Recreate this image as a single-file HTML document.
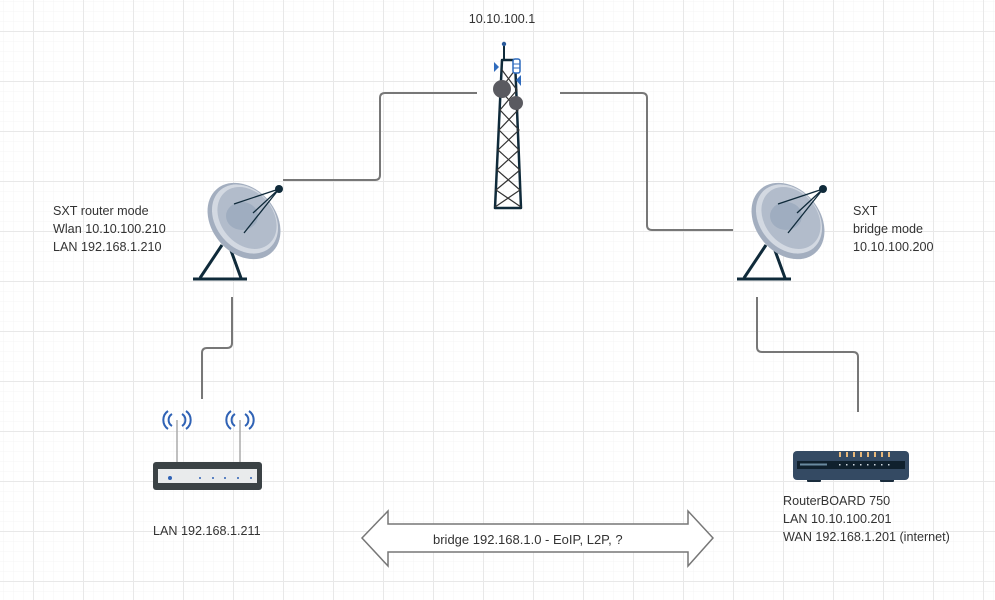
<!DOCTYPE html>
<html><head><meta charset="utf-8"><style>
html,body{margin:0;padding:0;background:#fff;}
svg{display:block;}
text{font-family:"Liberation Sans",sans-serif;font-size:12.6px;fill:#333;}
</style></head><body>
<svg width="995" height="600" viewBox="0 0 995 600" xmlns="http://www.w3.org/2000/svg">
<defs>
<pattern id="minor" x="3" y="1" width="10" height="10" patternUnits="userSpaceOnUse">
<path d="M0 0H10M0 0V10" stroke="#f4f4f4" stroke-width="1" fill="none"/>
</pattern>
<pattern id="major" x="33" y="31" width="50" height="50" patternUnits="userSpaceOnUse">
<path d="M0 0.5H50M0.5 0V50" stroke="#e8e8e8" stroke-width="1" fill="none"/>
</pattern>
<g id="dish">
<line x1="222" y1="245" x2="200" y2="278" stroke="#0f2a3a" stroke-width="3"/>
<line x1="229" y1="245" x2="241" y2="278" stroke="#0f2a3a" stroke-width="3"/>
<line x1="193" y1="279" x2="247" y2="279" stroke="#0f2a3a" stroke-width="3"/>
<ellipse cx="244" cy="221" rx="42" ry="32" transform="rotate(50 244 221)" fill="#a3aebf"/>
<ellipse cx="245" cy="219" rx="38" ry="29" transform="rotate(50 245 219)" fill="#d3d9e2"/>
<ellipse cx="247" cy="218" rx="34" ry="26" transform="rotate(50 247 218)" fill="#b2bccb"/>
<ellipse cx="242" cy="216" rx="16" ry="14" fill="#9fadc0"/>
<line x1="279" y1="189" x2="234" y2="204" stroke="#0f2a3a" stroke-width="1.3"/>
<line x1="279" y1="189" x2="253" y2="213" stroke="#0f2a3a" stroke-width="1.3"/>
<line x1="279" y1="189" x2="244" y2="233" stroke="#0f2a3a" stroke-width="1.3"/>
<circle cx="279" cy="189" r="4" fill="#0f2a3a"/>
</g>
</defs>
<rect width="995" height="600" fill="url(#minor)"/>
<rect width="995" height="600" fill="url(#major)"/>

<g fill="none" stroke="#777" stroke-width="2">
<path d="M283 180H375Q380 180 380 175V98Q380 93 385 93H477"/>
<path d="M560 93H642Q647 93 647 98V225Q647 230 652 230H733"/>
<path d="M232 297V343Q232 348 227 348H207Q202 348 202 353V399"/>
<path d="M757 297V347Q757 352 762 352H853Q858 352 858 357V412"/>
</g>

<g>
<line x1="504" y1="44" x2="504" y2="60" stroke="#0f2a3a" stroke-width="2"/>
<circle cx="504" cy="44" r="2.2" fill="#2a5a9a"/>
<path d="M502 60H515L521 208H495Z" fill="none" stroke="#0f2a3a" stroke-width="2.5" stroke-linejoin="round"/>
<path d="M502 70L517 90L500 110L519 130L498 150L520 170L496 190L521 207M515 70L500 90L518 110L499 130L519 150L497 170L520 190L495 207" fill="none" stroke="#333" stroke-width="1.2"/>
<rect x="513" y="59" width="7" height="14" rx="2" fill="#fff" stroke="#2f6bbd" stroke-width="1.5"/>
<line x1="513" y1="64" x2="520" y2="64" stroke="#2f6bbd"/><line x1="513" y1="68" x2="520" y2="68" stroke="#2f6bbd"/>
<path d="M494 62L499 67L494 72Z" fill="#2f6bbd"/>
<path d="M521 75L516 80L521 86Z" fill="#2f6bbd"/>
<circle cx="502" cy="89" r="9" fill="#5a5a60"/>
<circle cx="516" cy="103" r="7" fill="#5a5a60"/>
</g>
<text x="502" y="23" text-anchor="middle">10.10.100.1</text>

<use href="#dish"/>
<use href="#dish" transform="translate(544 0)"/>

<text x="53" y="215">SXT router mode</text>
<text x="53" y="233">Wlan 10.10.100.210</text>
<text x="53" y="251">LAN 192.168.1.210</text>

<text x="853" y="215">SXT</text>
<text x="853" y="233">bridge mode</text>
<text x="853" y="251">10.10.100.200</text>

<g>
<line x1="177" y1="420" x2="177" y2="463" stroke="#aaa" stroke-width="1.5"/>
<line x1="240" y1="420" x2="240" y2="463" stroke="#aaa" stroke-width="1.5"/>
<g fill="none" stroke="#2f62b5" stroke-width="2">
<path d="M172 414A7 7 0 0 0 172 426M168 411A11 11 0 0 0 168 429M182 414A7 7 0 0 1 182 426M186 411A11 11 0 0 1 186 429"/>
<path d="M235 414A7 7 0 0 0 235 426M231 411A11 11 0 0 0 231 429M245 414A7 7 0 0 1 245 426M249 411A11 11 0 0 1 249 429"/>
</g>
<rect x="153" y="462" width="109" height="28" rx="3" fill="#3b4245"/>
<rect x="158" y="469" width="99" height="14" fill="#e9ebec"/>
<circle cx="170" cy="478" r="2" fill="#2f62b5"/>
<g fill="#2f62b5"><circle cx="200" cy="478" r="1"/><circle cx="213" cy="478" r="1"/><circle cx="225" cy="478" r="1"/><circle cx="238" cy="478" r="1"/><circle cx="251" cy="478" r="1"/></g>
</g>
<text x="153" y="535">LAN 192.168.1.211</text>

<g>
<rect x="807" y="478" width="14" height="4" rx="1" fill="#1a2c3c"/>
<rect x="880" y="478" width="14" height="4" rx="1" fill="#1a2c3c"/>
<rect x="793" y="451" width="116" height="29" rx="4" fill="#344a63"/>
<rect x="797" y="461" width="108" height="8" fill="#10212e"/>
<rect x="800" y="463.5" width="27" height="2" fill="#6a8aa0"/>
<g fill="#e8b87a"><rect x="839" y="452" width="2" height="5"/><rect x="846" y="452" width="2" height="5"/><rect x="853" y="452" width="2" height="5"/><rect x="860" y="452" width="2" height="5"/><rect x="867" y="452" width="2" height="5"/><rect x="874" y="452" width="2" height="5"/><rect x="881" y="452" width="2" height="5"/><rect x="888" y="452" width="2" height="5"/></g>
<g fill="#cfd8e0"><rect x="839" y="464" width="1.5" height="1.5"/><rect x="846" y="464" width="1.5" height="1.5"/><rect x="853" y="464" width="1.5" height="1.5"/><rect x="860" y="464" width="1.5" height="1.5"/><rect x="867" y="464" width="1.5" height="1.5"/><rect x="874" y="464" width="1.5" height="1.5"/><rect x="881" y="464" width="1.5" height="1.5"/><rect x="888" y="464" width="1.5" height="1.5"/></g>
</g>
<text x="783" y="505">RouterBOARD 750</text>
<text x="783" y="523">LAN 10.10.100.201</text>
<text x="783" y="541">WAN 192.168.1.201 (internet)</text>

<path d="M362 538L388 511V524H688V511L713 538L688 566V552H388V566Z" fill="#fff" stroke="#777" stroke-width="1.5" stroke-linejoin="miter"/>
<text x="433" y="544" style="font-size:13px">bridge 192.168.1.0 - EoIP,  L2P, ?</text>
</svg>
</body></html>
